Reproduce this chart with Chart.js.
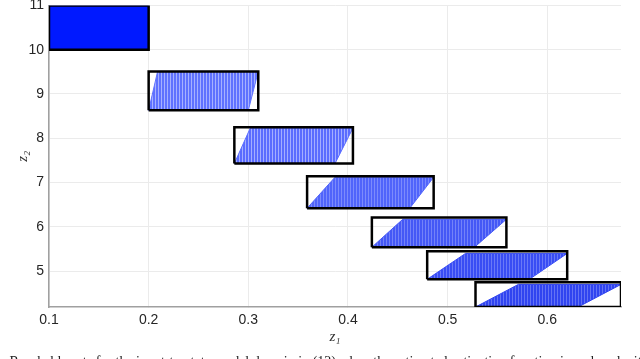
<!DOCTYPE html>
<html>
<head>
<meta charset="utf-8">
<script src="https://cdn.jsdelivr.net/npm/chart.js@4/dist/chart.umd.min.js"></script>
<style>
  html, body { margin: 0; padding: 0; background: #fff; overflow: hidden; }
  #wrap { position: relative; width: 640px; height: 359px; overflow: hidden; }
  #chart { position: absolute; left: 0; top: -8px; }
  #caption {
    position: absolute; left: -5px; top: 355px; white-space: nowrap;
    font: 14px/14px "Liberation Serif", serif; color: #222;
  }
</style>
</head>
<body>
<div id="wrap">
  <canvas id="chart" width="640" height="367"></canvas>
  <div id="caption">1: Reachable sets for the input-to-state model domain in (12) when the estimated activation function is replaced with the I</div>
</div>
<script>
// initial set (solid)
const initZ1 = [0.1, 0.2];
const initZ2 = [10, 11];

// outer boxes of each step
const boxZ1Lo = [0.2, 0.286, 0.359, 0.424, 0.4795, 0.528];
const boxZ1Hi = [0.31, 0.405, 0.486, 0.559, 0.620, 0.674];
const boxZ2Lo = [8.63, 7.43, 6.42, 5.54, 4.815, 4.19];
const boxZ2Hi = [9.51, 8.25, 7.14, 6.21, 5.45, 4.75];

// reachable parallelograms: corners not shared with the box
const setTopLeftZ1 = [0.209, 0.302, 0.387, 0.455, 0.518, 0.571];
const setBotRightZ1 = [0.300, 0.387, 0.462, 0.527, 0.582, 0.631];
const setTopZ2 = [9.51, 8.23, 7.12, 6.17, 5.40, 4.70];

const xTicks = [0.1, 0.2, 0.3, 0.4, 0.5, 0.6];
const yTicks = [5, 6, 7, 8, 9, 10, 11];

const fillColors = ["#5f72ff", "#5a6cff", "#5064fb", "#4458f6", "#394df4", "#3044f0"];

function hatch(color, white) {
  const c = document.createElement("canvas");
  c.width = 3; c.height = 3;
  const g = c.getContext("2d");
  g.fillStyle = color;
  g.fillRect(0, 0, 3, 3);
  g.fillStyle = "rgba(255,255,255," + white + ")";
  g.fillRect(2, 0, 1, 3);
  return g.createPattern(c, "repeat");
}

const datasets = [];

boxZ1Lo.forEach((lo, i) => {
  datasets.push({
    data: [
      { x: lo, y: boxZ2Lo[i] }, { x: lo, y: boxZ2Hi[i] },
      { x: boxZ1Hi[i], y: boxZ2Hi[i] }, { x: boxZ1Hi[i], y: boxZ2Lo[i] },
      { x: lo, y: boxZ2Lo[i] }
    ],
    borderColor: "#000", borderWidth: 2.5, fill: false, order: 0
  });
});

boxZ1Lo.forEach((lo, i) => {
  datasets.push({
    data: [
      { x: lo, y: boxZ2Lo[i] }, { x: setTopLeftZ1[i], y: setTopZ2[i] },
      { x: boxZ1Hi[i], y: setTopZ2[i] }, { x: setBotRightZ1[i], y: boxZ2Lo[i] },
      { x: lo, y: boxZ2Lo[i] }
    ],
    borderColor: fillColors[i], borderWidth: 1, fill: "shape",
    backgroundColor: hatch(fillColors[i], i < 2 ? 0.45 : 0.25), order: 1
  });
});

datasets.push({
  data: [
    { x: initZ1[0], y: initZ2[0] }, { x: initZ1[0], y: initZ2[1] },
    { x: initZ1[1], y: initZ2[1] }, { x: initZ1[1], y: initZ2[0] },
    { x: initZ1[0], y: initZ2[0] }
  ],
  borderColor: "#000", borderWidth: 2.5, fill: "shape",
  backgroundColor: "#0019ff", order: 0
});

const tickFont = { family: "'Liberation Sans', Arial, sans-serif", size: 14 };
const titleFont = { family: "'Liberation Serif', serif", size: 15, style: "italic" };

new Chart(document.getElementById("chart"), {
  type: "scatter",
  data: { datasets },
  options: {
    responsive: false,
    animation: false,
    layout: { padding: { top: 5, right: 19, left: 0, bottom: 0 } },
    datasets: { scatter: { showLine: true, pointRadius: 0, pointHoverRadius: 0, tension: 0 } },
    plugins: { legend: { display: false }, tooltip: { enabled: false } },
    scales: {
      x: {
        type: "linear", min: 0.1, max: 0.674,
        afterBuildTicks: s => { s.ticks = xTicks.map(v => ({ value: v })); },
        afterFit: s => { s.height = 52; },
        ticks: { font: tickFont, color: "#262626", padding: 5, maxRotation: 0, callback: v => v.toFixed(1) },
        grid: { color: "#ebebeb", tickLength: 0 },
        border: { color: "#a0a0a0", width: 1.5 },
        title: { display: true, text: "z₁", font: titleFont, color: "#333", padding: { top: 2, bottom: 13 } }
      },
      y: {
        type: "linear", min: 4.19, max: 11,
        afterBuildTicks: s => { s.ticks = yTicks.map(v => ({ value: v })); },
        afterFit: s => { s.width = 49; },
        ticks: { font: tickFont, color: "#262626", padding: 5 },
        grid: { color: "#ebebeb", tickLength: 0 },
        border: { color: "#a0a0a0", width: 1.5 },
        title: { display: true, text: "z₂", font: titleFont, color: "#333", padding: { top: 14, bottom: 0 } }
      }
    }
  }
});
</script>
</body>
</html>
